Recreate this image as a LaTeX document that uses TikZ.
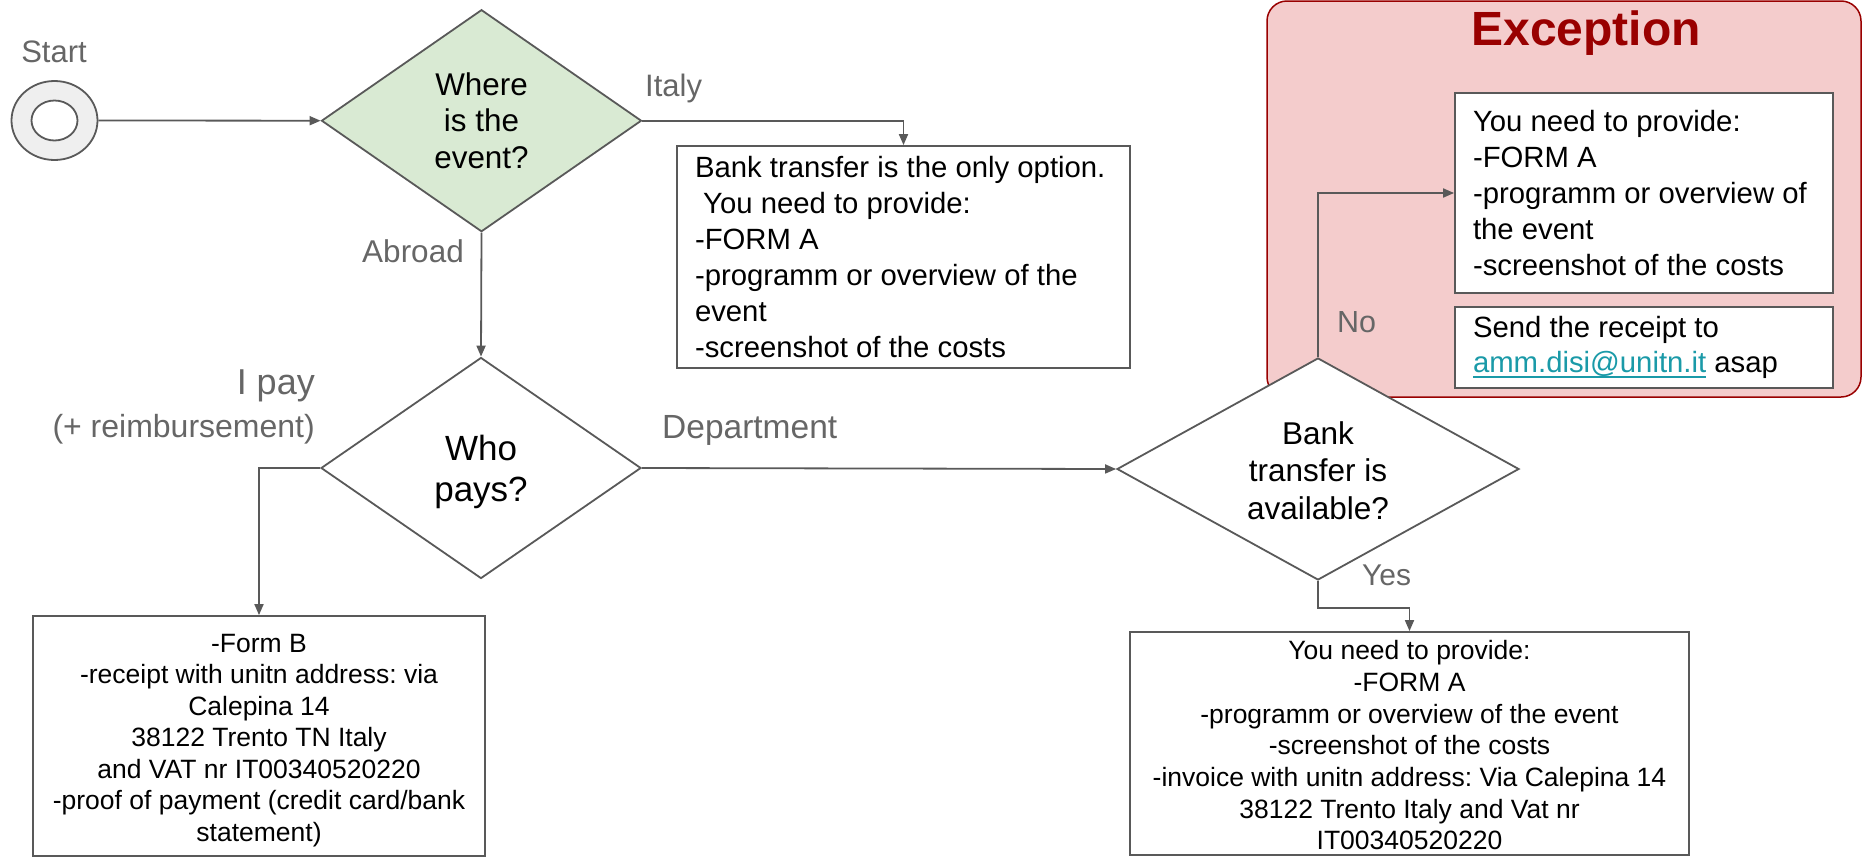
\documentclass[tikz,border=0pt]{standalone}
\usepackage{fontspec}
\setmainfont{Liberation Sans}
\usetikzlibrary{shapes.geometric,arrows.meta}
\frenchspacing
\definecolor{linegray}{HTML}{595959}
\definecolor{labelgray}{HTML}{666666}
\definecolor{diagreen}{HTML}{D9EAD3}
\definecolor{startgray}{HTML}{EFEFEF}
\definecolor{excfill}{HTML}{F4CCCC}
\definecolor{excred}{HTML}{990000}
\definecolor{linkteal}{HTML}{1A9AA8}
\newcommand{\fsz}[2]{\fontsize{#1}{#2}\selectfont}
\newcommand{\ulnk}[1]{\leavevmode\setbox0\hbox{#1}\rlap{\rule[-5pt]{\wd0}{2pt}}\box0}
\newcommand{\topstrut}[1]{\rule{0pt}{#1}}
\tikzset{
  conn/.style={draw=linegray, line width=1.8pt, -{Triangle[length=11pt,width=9pt]}},
  textbox/.style={draw=linegray, line width=1.8pt, fill=white, inner ysep=0pt},
  lbl/.style={text=labelgray, inner sep=0pt},
  decision/.style={diamond, draw=linegray, line width=1.8pt, inner sep=0pt, align=center},
  ring/.style={ellipse, draw=linegray, line width=1.8pt, inner sep=0pt},
  excbox/.style={draw=excred, line width=1.5pt, fill=excfill, rounded corners=20pt, inner sep=0pt},
}
\begin{document}
\begin{tikzpicture}[x=1pt,y=-1pt]
\useasboundingbox (0,0) rectangle (1864,857);

% exception area
\node[excbox, minimum width=594pt, minimum height=396pt] (exc) at (1564,199) {};
\node[text=excred, inner sep=0pt, anchor=base, font=\fsz{48}{54}\bfseries] (exct) at (1586,45) {Exception};

% start
\node[ring, fill=startgray, minimum width=86pt, minimum height=79pt] (start) at (54.5,120.5) {};
\node[ring, fill=white, minimum width=46pt, minimum height=40pt] (startin) at (54.5,120.5) {};
\node[lbl, font=\fsz{31}{36}, anchor=base] (startlbl) at (54,62) {Start};

% decisions
\node[decision, fill=diagreen, aspect=1.44, minimum width=320pt, minimum height=222pt, font=\fsz{31.4}{36.3}] (d1) at (481.5,120.7) {Where\\is the\\event?};
\node[decision, fill=white, aspect=1.45, minimum width=320pt, minimum height=221pt, font=\fsz{35}{41}] (d2) at (481,468) {\topstrut{34pt}Who\\pays?};

% boxes
\node[textbox, minimum width=453pt, minimum height=222pt, inner xsep=18pt, text width=417pt, align=flush left, font=\fsz{29.3}{36}] (italy) at (903.5,257) {Bank transfer is the only option.\\\hspace*{.28em}You need to provide:\\-FORM A\\-programm or overview of the\\event\\-screenshot of the costs};

\node[textbox, minimum width=452pt, minimum height=240pt, inner xsep=10pt, text width=432pt, align=flush center, font=\fsz{26.5}{31.5}] (formb) at (259,736) {\topstrut{27pt}-Form B\\-receipt with unitn address: via\\Calepina 14\\38122 Trento TN Italy\\and VAT nr IT00340520220\\-proof of payment (credit card/bank\\statement)};

\node[textbox, minimum width=559pt, minimum height=223pt, inner xsep=10pt, text width=539pt, align=flush center, font=\fsz{26.5}{31.7}] (yesbox) at (1409.5,743.5) {\topstrut{23pt}You need to provide:\\-FORM A\\-programm or overview of the event\\-screenshot of the costs\\-invoice with unitn address: Via Calepina 14\\38122 Trento Italy and Vat nr\\IT00340520220};

\node[textbox, minimum width=378pt, minimum height=200pt, inner xsep=18pt, text width=342pt, align=flush left, font=\fsz{29.3}{35.8}] (exc1) at (1644,193) {You need to provide:\\-FORM A\\-programm or overview of\\the event\\-screenshot of the costs};

\node[textbox, minimum width=378pt, minimum height=81pt, inner xsep=18pt, text width=342pt, align=flush left, font=\fsz{29.3}{35}] (exc2) at (1644,347.5) {Send the receipt to\\{\color{linkteal}\ulnk{amm.disi@unitn.it}} asap};

\node[decision, fill=white, aspect=1.81, minimum width=402pt, minimum height=222pt, font=\fsz{31.5}{37.5}] (d3) at (1318,469) {\topstrut{26pt}Bank\\transfer is\\available?};

% labels
\node[lbl, font=\fsz{31}{36}, anchor=base west] (italylbl) at (645,96) {Italy};
\node[lbl, font=\fsz{31.5}{36}, anchor=base east] (abroadlbl) at (464,262) {Abroad};
\node[lbl, font=\fsz{36}{40}, anchor=base east] (ipaylbl) at (315,394) {I pay};
\node[lbl, font=\fsz{32}{36}, anchor=base east] (reimblbl) at (315,437) {(+ reimbursement)};
\node[lbl, font=\fsz{33.5}{38}, anchor=base west] (deptlbl) at (662,438) {Department};
\node[lbl, font=\fsz{30}{36}, anchor=base west] (yeslbl) at (1362,585) {Yes};
\node[lbl, font=\fsz{30.5}{36}, anchor=base west] (nolbl) at (1337,332) {No};

% connectors
\draw[conn] (start.east) -- (d1.west);
\draw[conn] (d1.east) -| (italy.north);
\draw[conn] (d1.south) -- (d2.north);
\draw[conn] (d2.west) -| (formb.north);
\draw[conn] (d2.east) -- (d3.west);
\draw[conn] (d3.south) -- ++(0,27) -| (yesbox.north);
\draw[conn] (d3.north) |- (exc1.west);
\end{tikzpicture}
\end{document}
